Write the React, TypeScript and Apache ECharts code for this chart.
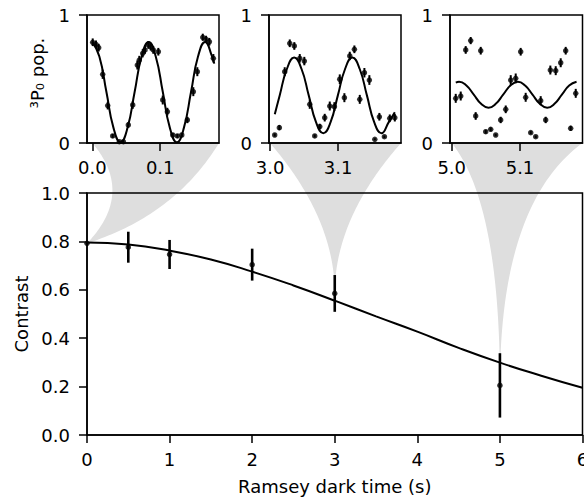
import React, { useEffect, useRef } from "react";
import * as echarts from "echarts";

// ---------- main panel ----------
const mainTimes = [0, 0.5, 1, 2, 3, 5];
const mainContrast = [0.792, 0.776, 0.746, 0.704, 0.585, 0.205];
const mainErr = [0.004, 0.064, 0.06, 0.066, 0.076, 0.133];
const fitTimes = [0, 0.5, 1, 1.5, 2, 2.5, 3, 3.5, 4, 4.5, 5, 5.5, 6];
const fitContrast = [0.795, 0.787, 0.762, 0.725, 0.675, 0.618, 0.555, 0.49, 0.427, 0.36, 0.299, 0.245, 0.195];
const mainXTicks = [0, 1, 2, 3, 4, 5, 6];
const mainYTicks = [0, 0.2, 0.4, 0.6, 0.8, 1.0];

// ---------- inset 1 (t = 0 s) ----------
const in1X = [0.0006, 0.0054, 0.0094, 0.0153, 0.0227, 0.03, 0.0398, 0.0457, 0.053, 0.0595, 0.0663, 0.0692, 0.0742, 0.0776, 0.0825, 0.086, 0.0898, 0.0972, 0.1037, 0.1105, 0.1184, 0.1252, 0.1317, 0.1399, 0.1487, 0.1546, 0.1626, 0.1675, 0.1723, 0.1782];
const in1Y = [0.787, 0.771, 0.745, 0.537, 0.292, 0.055, 0.01, 0.01, 0.141, 0.297, 0.609, 0.648, 0.701, 0.727, 0.766, 0.752, 0.727, 0.713, 0.336, 0.245, 0.0625, 0.055, 0.0625, 0.18, 0.401, 0.557, 0.826, 0.81, 0.791, 0.662];
const in1E = [0.03, 0.03, 0.03, 0.036, 0.03, 0.015, 0.008, 0.008, 0.022, 0.03, 0.035, 0.033, 0.032, 0.03, 0.03, 0.03, 0.03, 0.03, 0.035, 0.03, 0.015, 0.015, 0.015, 0.025, 0.035, 0.035, 0.028, 0.028, 0.03, 0.033];
const in1FitX = [0, 0.0104, 0.0208, 0.0311, 0.0415, 0.0519, 0.0623, 0.0726, 0.083, 0.0934, 0.1038, 0.1141, 0.1245, 0.1349, 0.1453, 0.1556, 0.166, 0.1764, 0.1795];
const in1FitY = [0.79, 0.675, 0.398, 0.12, 0.005, 0.12, 0.398, 0.675, 0.79, 0.675, 0.398, 0.12, 0.005, 0.12, 0.398, 0.675, 0.79, 0.675, 0.62];

// ---------- inset 2 (t = 3 s) ----------
const in2X = [3.0069, 3.0137, 3.0216, 3.029, 3.0357, 3.0437, 3.0504, 3.0584, 3.0657, 3.0731, 3.0804, 3.0878, 3.0946, 3.1025, 3.1093, 3.1172, 3.124, 3.1319, 3.1387, 3.146, 3.154, 3.1607, 3.1681, 3.176, 3.1834];
const in2Y = [0.0625, 0.12, 0.557, 0.779, 0.758, 0.662, 0.64, 0.302, 0.055, 0.128, 0.198, 0.289, 0.284, 0.498, 0.354, 0.68, 0.732, 0.341, 0.549, 0.492, 0.029, 0.205, 0.049, 0.193, 0.198];
const in2E = [0.012, 0.02, 0.035, 0.03, 0.03, 0.033, 0.033, 0.035, 0.012, 0.022, 0.03, 0.035, 0.035, 0.038, 0.035, 0.033, 0.03, 0.035, 0.037, 0.038, 0.008, 0.03, 0.01, 0.03, 0.03];
const in2FitX = [3.007, 3.0142, 3.0249, 3.0355, 3.0462, 3.0569, 3.0676, 3.0783, 3.089, 3.0997, 3.1104, 3.121, 3.1317, 3.1424, 3.1531, 3.1638, 3.1745, 3.1834];
const in2FitY = [0.224, 0.372, 0.58, 0.667, 0.58, 0.372, 0.163, 0.076, 0.163, 0.372, 0.58, 0.667, 0.58, 0.372, 0.163, 0.076, 0.163, 0.24];

// ---------- inset 3 (t = 5 s) ----------
const in3X = [5.0059, 5.0132, 5.0205, 5.0278, 5.0351, 5.0425, 5.0498, 5.0571, 5.0644, 5.0717, 5.0791, 5.0864, 5.0937, 5.101, 5.1083, 5.1157, 5.123, 5.1303, 5.1376, 5.1444, 5.1523, 5.1596, 5.1669, 5.1742, 5.1816];
const in3Y = [0.349, 0.367, 0.727, 0.8, 0.211, 0.721, 0.088, 0.107, 0.0625, 0.18, 0.263, 0.492, 0.505, 0.713, 0.357, 0.081, 0.049, 0.331, 0.18, 0.57, 0.565, 0.627, 0.721, 0.115, 0.388];
const in3E = [0.035, 0.035, 0.03, 0.028, 0.03, 0.03, 0.015, 0.015, 0.01, 0.025, 0.03, 0.038, 0.038, 0.03, 0.035, 0.012, 0.01, 0.035, 0.025, 0.035, 0.035, 0.035, 0.03, 0.02, 0.035];
const in3FitX = [5.006, 5.0108, 5.0215, 5.0323, 5.043, 5.0538, 5.0645, 5.0753, 5.086, 5.0968, 5.1075, 5.1183, 5.129, 5.1398, 5.1505, 5.1613, 5.172, 5.1828];
const in3FitY = [0.472, 0.479, 0.449, 0.378, 0.306, 0.276, 0.306, 0.378, 0.449, 0.479, 0.449, 0.378, 0.306, 0.276, 0.306, 0.378, 0.449, 0.479];

const insetRanges = [
  [-0.0078, 0.1865],
  [2.9985, 3.1925],
  [4.9975, 5.1915],
];
const insetTicks = [
  [0.0, 0.1],
  [3.0, 3.1],
  [5.0, 5.1],
];
const insetYTicks = [0, 1];
const funnelStart = [0.0, 3.0, 5.0];
const funnelTipIndex = [0, 4, 5];

// ---------- styles / layout ----------
const FONT = "DejaVu Sans";
const FS = 18;
const mainGrid = { left: 87, top: 193, width: 495.5, height: 242 };
const insetGrids = [
  { left: 87, top: 15, width: 132, height: 128 },
  { left: 269, top: 15, width: 132, height: 128 },
  { left: 450, top: 15, width: 132.5, height: 128 },
];
// quadratic control point of each funnel edge: [dx from tip (px), fraction of height]
const funnelCtrl = [
  [[48, 0.5], [88, 0.72]],
  [[0, 0.5], [0, 0.5]],
  [[0, 0.25], [0, 0.25]],
];
const GREY = "#dedede";

const zip3 = (a: number[], b: number[], c: number[]) => a.map((v, i) => [v, b[i], c[i]]);
const zip2 = (a: number[], b: number[]) => a.map((v, i) => [v, b[i]]);

const errSeries = (idx: number, data: number[][], w: number) => ({
  type: "custom",
  xAxisIndex: idx,
  yAxisIndex: idx,
  data,
  encode: { x: 0, y: 1 },
  z: 3,
  renderItem: (params: any, api: any) => {
    const x = api.value(0);
    const y = api.value(1);
    const e = api.value(2);
    const p1 = api.coord([x, y - e]);
    const p2 = api.coord([x, y + e]);
    return {
      type: "line",
      shape: { x1: p1[0], y1: p1[1], x2: p2[0], y2: p2[1] },
      style: { stroke: "#000", lineWidth: w },
    };
  },
});

const axisLineStyle = { show: true, onZero: false, lineStyle: { color: "#000", width: 1.5 } };
const tickStyle = { show: true, length: 8, lineStyle: { color: "#000", width: 1.5 } };
const labelBase = { color: "#000", fontSize: FS, fontFamily: FONT };

export default function App() {
  const ref = useRef<HTMLDivElement>(null);

  useEffect(() => {
    if (!ref.current) return;
    const chart = echarts.init(ref.current, undefined, { renderer: "svg" });

    const grids = [mainGrid, ...insetGrids].map((g) => ({
      ...g,
      show: true,
      borderColor: "#000",
      borderWidth: 1.5,
      backgroundColor: "transparent",
      containLabel: false,
      outerBoundsMode: "none",
    }));

    const xAxes: any[] = [
      {
        gridIndex: 0,
        type: "value",
        min: 0,
        max: 6,
        interval: 1,
        axisLine: axisLineStyle,
        axisTick: { ...tickStyle, customValues: mainXTicks },
        axisLabel: { ...labelBase, margin: 15, customValues: mainXTicks, formatter: (v: number) => String(v) },
        splitLine: { show: false },
        name: "Ramsey dark time (s)",
        nameLocation: "middle",
        nameGap: 42,
        nameTextStyle: { ...labelBase },
      },
      ...insetRanges.map((r, i) => ({
        gridIndex: i + 1,
        type: "value",
        min: r[0],
        max: r[1],
        axisLine: axisLineStyle,
        axisTick: { ...tickStyle, customValues: insetTicks[i] },
        axisLabel: { ...labelBase, margin: 15, customValues: insetTicks[i], formatter: (v: number) => v.toFixed(1) },
        splitLine: { show: false },
      })),
    ];

    const yAxes: any[] = [
      {
        gridIndex: 0,
        type: "value",
        min: 0,
        max: 1,
        interval: 0.2,
        axisLine: axisLineStyle,
        axisTick: { ...tickStyle, customValues: mainYTicks },
        axisLabel: { ...labelBase, margin: 17, customValues: mainYTicks, formatter: (v: number) => v.toFixed(1) },
        splitLine: { show: false },
        name: "Contrast",
        nameLocation: "middle",
        nameRotate: 90,
        nameGap: 56,
        nameTextStyle: { ...labelBase },
      },
      ...insetGrids.map((g, i) => ({
        gridIndex: i + 1,
        type: "value",
        min: 0,
        max: 1,
        interval: 1,
        axisLine: axisLineStyle,
        axisTick: { ...tickStyle, customValues: insetYTicks },
        axisLabel: { ...labelBase, margin: 17, customValues: insetYTicks, formatter: (v: number) => String(v) },
        splitLine: { show: false },
        ...(i === 0
          ? {
              name: "\u00B3P\u2080 pop.",
              nameLocation: "middle",
              nameRotate: 90,
              nameGap: 41,
              nameTextStyle: { ...labelBase, padding: [0, 0, 0, 12] },
            }
          : {}),
      })),
    ];

    const insetData = [
      { x: in1X, y: in1Y, e: in1E, fx: in1FitX, fy: in1FitY },
      { x: in2X, y: in2Y, e: in2E, fx: in2FitX, fy: in2FitY },
      { x: in3X, y: in3Y, e: in3E, fx: in3FitX, fy: in3FitY },
    ];

    const series: any[] = [
      {
        type: "line",
        xAxisIndex: 0,
        yAxisIndex: 0,
        data: zip2(fitTimes, fitContrast),
        smooth: true,
        showSymbol: false,
        symbol: "none",
        lineStyle: { color: "#000", width: 2 },
        z: 2,
      },
      errSeries(0, zip3(mainTimes, mainContrast, mainErr), 2.6),
      {
        type: "scatter",
        xAxisIndex: 0,
        yAxisIndex: 0,
        data: zip2(mainTimes, mainContrast),
        symbolSize: 5.5,
        itemStyle: { color: "#000" },
        z: 4,
      },
    ];
    insetData.forEach((d, i) => {
      const idx = i + 1;
      series.push({
        type: "line",
        xAxisIndex: idx,
        yAxisIndex: idx,
        data: zip2(d.fx, d.fy),
        smooth: true,
        showSymbol: false,
        symbol: "none",
        lineStyle: { color: "#000", width: 2 },
        z: 2,
      });
      series.push(errSeries(idx, zip3(d.x, d.y, d.e), 2));
      series.push({
        type: "scatter",
        xAxisIndex: idx,
        yAxisIndex: idx,
        data: zip2(d.x, d.y),
        symbolSize: 5.5,
        itemStyle: { color: "#000" },
        z: 4,
      });
    });

    chart.setOption({
      animation: false,
      backgroundColor: "#fff",
      textStyle: { fontFamily: FONT },
      grid: grids,
      xAxis: xAxes,
      yAxis: yAxes,
      series,
    });

    // funnels connecting each inset to its point in the main panel
    const graphics: any[] = [];
    funnelTipIndex.forEach((ti, i) => {
      const gi = i + 1;
      const tl = chart.convertToPixel({ gridIndex: gi }, [funnelStart[i], 0]) as number[];
      const tr = chart.convertToPixel({ gridIndex: gi }, [insetRanges[i][1], 0]) as number[];
      const tip = chart.convertToPixel({ gridIndex: 0 }, [mainTimes[ti], mainContrast[ti]]) as number[];
      const h = tip[1] - tl[1];
      const quad = (p0: number[], c: number[], p2: number[], t: number) => [
        (1 - t) * (1 - t) * p0[0] + 2 * t * (1 - t) * c[0] + t * t * p2[0],
        (1 - t) * (1 - t) * p0[1] + 2 * t * (1 - t) * c[1] + t * t * p2[1],
      ];
      const cl = [tip[0] + funnelCtrl[i][0][0], tl[1] + funnelCtrl[i][0][1] * h];
      const cr = [tip[0] + funnelCtrl[i][1][0], tl[1] + funnelCtrl[i][1][1] * h];
      const pts: number[][] = [];
      const N = 48;
      for (let k = 0; k <= N; k++) pts.push(quad(tl, cl, tip, k / N));
      for (let k = N; k >= 0; k--) pts.push(quad(tr, cr, tip, k / N));
      graphics.push({
        type: "polygon",
        z: -10,
        silent: true,
        shape: { points: pts },
        style: { fill: GREY, stroke: null },
      });
    });
    chart.setOption({ graphic: graphics });

    return () => chart.dispose();
  }, []);

  return (
    <div
      ref={ref}
      style={{ position: "fixed", left: 0, top: 0, width: 584, height: 497, background: "#fff" }}
    />
  );
}
